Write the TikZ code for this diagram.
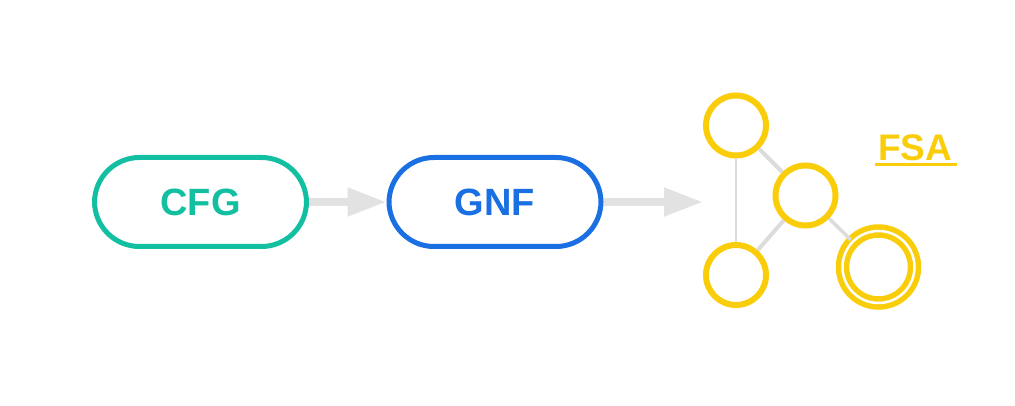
\documentclass[tikz,border=0pt]{standalone}
\usepackage{fontspec}
\setmainfont{Liberation Sans}
\usetikzlibrary{arrows.meta}
\definecolor{teal}{HTML}{12BFA0}
\definecolor{gblue}{HTML}{1A6FE2}
\definecolor{gold}{HTML}{F9CD0A}
\definecolor{arrgray}{HTML}{E2E2E2}
\definecolor{edgegray}{HTML}{DCDCDC}
\begin{document}
\begin{tikzpicture}[x=1pt,y=-1pt,
  pill/.style={draw, line width=5pt, rounded corners=45pt, minimum width=212pt, minimum height=89pt, inner sep=0pt, font=\fontsize{38}{42}\selectfont\bfseries},
  bigarrow/.style={draw=arrgray, line width=8pt, -{Triangle[length=39pt,width=27pt]}},
  state/.style={circle, draw=gold, line width=6pt, minimum size=60pt, inner sep=0pt},
  accept/.style={circle, draw=gold, line width=5.5pt, double=white, double distance=2.5pt, minimum size=72pt, inner sep=0pt},
  fsaedge/.style={draw=edgegray, line width=#1},
  fsaedge/.default=3pt]
\useasboundingbox (0,0) rectangle (1015,406);
\node[pill, draw=teal, text=teal] (cfg) at (200.5,202) {CFG};
\node[pill, draw=gblue, text=gblue] (gnf) at (495,202) {GNF};
\coordinate (fsain) at (703,202);
\draw[bigarrow] (cfg) -- (gnf);
\draw[bigarrow] (gnf) -- (fsain);
\node[state] (q0) at (736,125.5) {};
\node[state] (q1) at (805.5,195.5) {};
\node[state] (q2) at (736,275) {};
\node[accept] (q3) at (878.5,267) {};
\draw[fsaedge=2.5pt] (q0) -- (q2);
\draw[fsaedge=4pt] (q0) -- (q1);
\draw[fsaedge=4pt] (q1) -- (q2);
\draw[fsaedge=3.5pt] (q1) -- (q3);
\node[text=gold, inner sep=0pt, anchor=base, font=\fontsize{37}{40}\selectfont\bfseries] (fsa) at (915,160.5) {FSA};
\draw[gold, line width=3pt] ([shift={(-3,4)}]fsa.base west) -- ([shift={(5,4)}]fsa.base east);
\end{tikzpicture}
\end{document}
